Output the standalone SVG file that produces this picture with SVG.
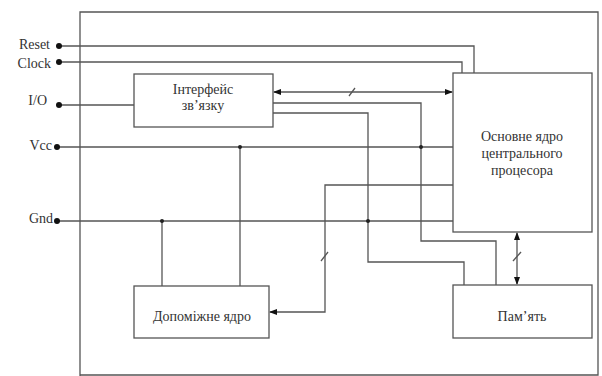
<svg xmlns="http://www.w3.org/2000/svg" width="602" height="376" viewBox="0 0 602 376">
<style>
.ln{fill:none;stroke:#555;stroke-width:1.3}
.bx{fill:#fff;stroke:#555;stroke-width:1.3}
.t{font-family:"Liberation Serif","DejaVu Serif",serif;font-size:14px;fill:#333;text-anchor:middle}
.pl{font-family:"Liberation Serif","DejaVu Serif",serif;font-size:14px;fill:#333;text-anchor:end}
.dot{fill:#111}
.jd{fill:#222}
</style>
<defs>
<marker id="ah" markerWidth="8" markerHeight="8" refX="7" refY="4" orient="auto-start-reverse" markerUnits="userSpaceOnUse">
<path d="M0,1 L8,4 L0,7 Z" fill="#111"/>
</marker>
</defs>
<rect width="602" height="376" fill="#fff"/>
<g id="frame">
<path class="ln" d="M80,376 V12 H598 V375 H80" stroke="#666"/>
</g>
<g id="connectors">
<path class="ln" d="M59,46 H474 V73"/>
<path class="ln" d="M59,62 H462 V73"/>
<path class="ln" d="M59,105 H134"/>
<path class="ln" d="M274,92 H452" marker-start="url(#ah)" marker-end="url(#ah)"/>
<path class="ln" d="M349,96 L355,88"/>
<path class="ln" d="M273,103 H421 V241 H496 V285"/>
<path class="ln" d="M273,113 H368 V262 H464 V285"/>
<path class="ln" d="M57,147 H453"/>
<path class="ln" d="M240,147 V286"/>
<path class="ln" d="M57,221 H453"/>
<path class="ln" d="M162,221 V286"/>
<path class="ln" d="M453,185 H325 V312 H270" marker-end="url(#ah)"/>
<path class="ln" d="M321,261 L328,252"/>
<path class="ln" d="M517,233 V284" marker-start="url(#ah)" marker-end="url(#ah)"/>
<path class="ln" d="M513,261 L521,252"/>
<circle class="jd" cx="240" cy="147" r="2"/>
<circle class="jd" cx="421" cy="147" r="2"/>
<circle class="jd" cx="162" cy="221" r="2"/>
<circle class="jd" cx="368" cy="221" r="2"/>
</g>
<g id="pins">
<circle class="dot" cx="59" cy="46" r="3"/>
<text class="pl" x="50" y="49">Reset</text>
<circle class="dot" cx="59" cy="62" r="3"/>
<text class="pl" x="51" y="68">Clock</text>
<circle class="dot" cx="59" cy="105" r="3"/>
<text class="pl" x="47" y="105">I/O</text>
<circle class="dot" cx="57" cy="147" r="3"/>
<text class="pl" x="52" y="150">Vcc</text>
<circle class="dot" cx="57" cy="221" r="3"/>
<text class="pl" x="53" y="223">Gnd</text>
</g>
<g id="interface">
<rect class="bx" x="134" y="74" width="139" height="53"/>
<text class="t" x="203" y="94">Інтерфейс</text>
<text class="t" x="203" y="110">зв’язку</text>
</g>
<g id="cpu">
<rect class="bx" x="453" y="73" width="139" height="159"/>
<text class="t" x="522" y="141">Основне ядро</text>
<text class="t" x="522" y="158">центрального</text>
<text class="t" x="522" y="175">процесора</text>
</g>
<g id="aux">
<rect class="bx" x="134" y="286" width="135" height="52"/>
<text class="t" x="202" y="321">Допоміжне ядро</text>
</g>
<g id="memory">
<rect class="bx" x="453" y="285" width="139" height="53"/>
<text class="t" x="522" y="321">Пам’ять</text>
</g>
</svg>
